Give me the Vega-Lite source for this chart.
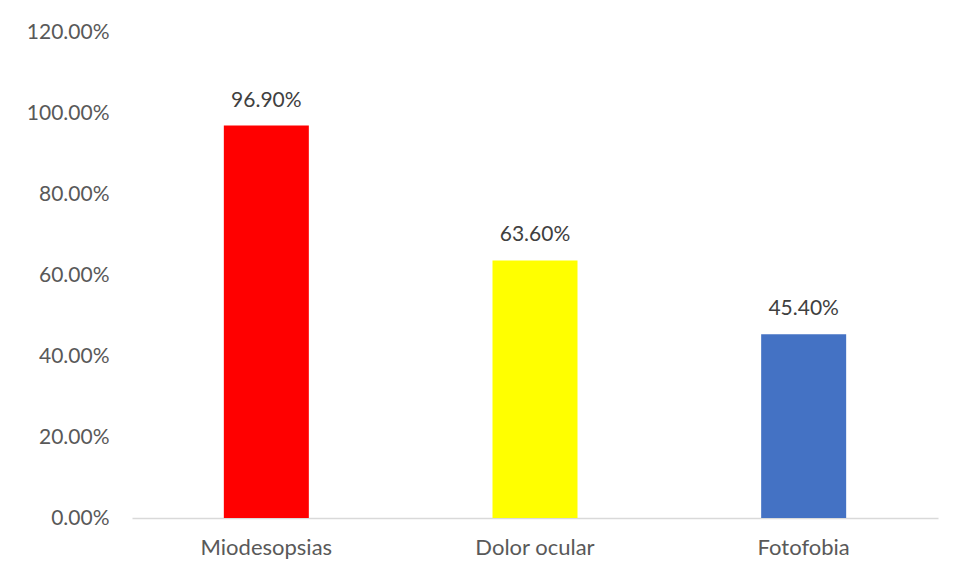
{
  "$schema": "https://vega.github.io/schema/vega-lite/v6.json",
  "width": 806,
  "height": 486,
  "autosize": {"type": "none"},
  "padding": {"left": 132, "top": 32, "right": 21, "bottom": 61},
  "background": "white",
  "config": {"view": {"stroke": null}, "font": "Lato"},
  "data": {"values": [
    {"sintoma": "Miodesopsias", "valor": 0.969, "color": "#FF0000"},
    {"sintoma": "Dolor ocular", "valor": 0.636, "color": "#FFFF00"},
    {"sintoma": "Fotofobia", "valor": 0.454, "color": "#4472C4"}
  ]},
  "encoding": {
    "x": {"field": "sintoma", "type": "nominal", "sort": null,
      "scale": {"paddingInner": 0, "paddingOuter": 0},
      "axis": {"title": null, "labelAngle": 0, "ticks": false, "domainColor": "#D9D9D9", "domainWidth": 1.5,
        "labelFont": "Lato", "labelFontSize": 22, "labelColor": "#595959", "labelPadding": 19}},
    "y": {"field": "valor", "type": "quantitative",
      "scale": {"domain": [0, 1.2], "nice": false},
      "axis": {"title": null, "grid": false, "domain": false, "ticks": false, "format": ".2%",
        "values": [0, 0.2, 0.4, 0.6, 0.8, 1.0, 1.2],
        "labelFont": "Lato", "labelFontSize": 21, "labelColor": "#595959", "labelPadding": 23}}
  },
  "layer": [
    {"mark": {"type": "bar", "size": 85},
     "encoding": {"color": {"field": "color", "type": "nominal", "scale": null}}},
    {"mark": {"type": "text", "dy": -25, "fontSize": 21, "color": "#404040", "font": "Lato"},
     "encoding": {"text": {"field": "valor", "type": "quantitative", "format": ".2%"}}}
  ]
}
